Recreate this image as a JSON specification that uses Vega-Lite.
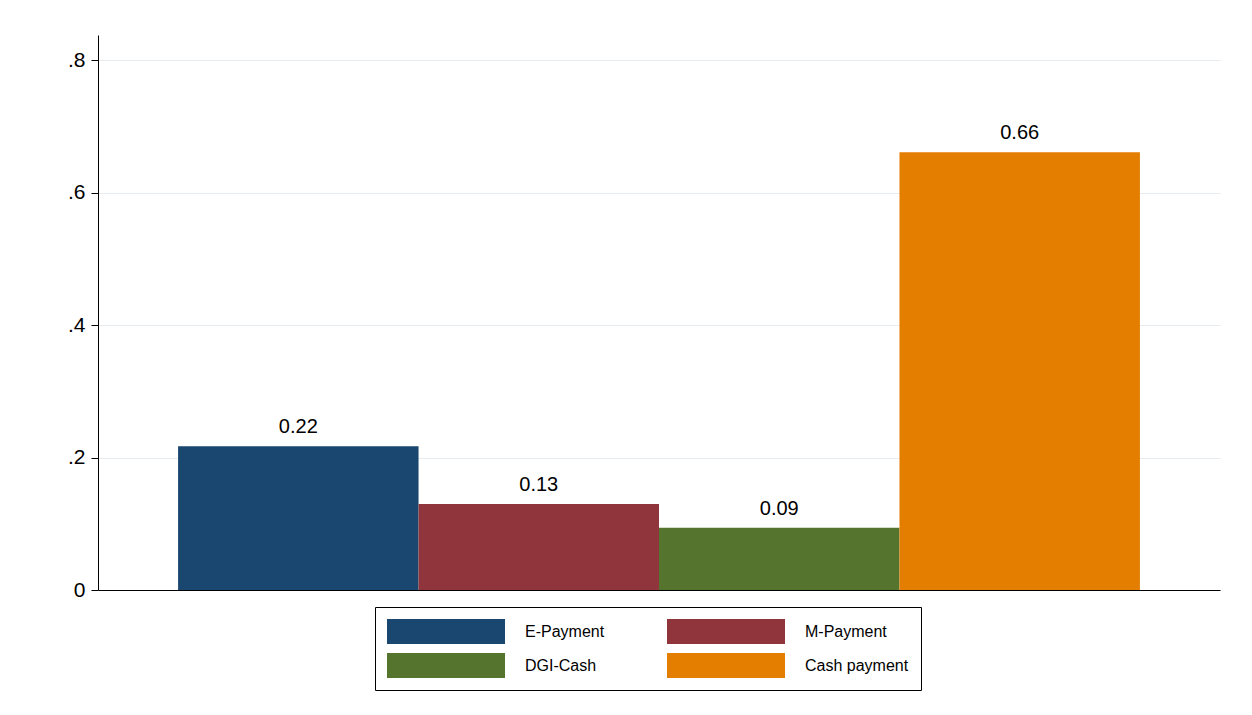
{
  "$schema": "https://vega.github.io/schema/vega-lite/v6.json",
  "autosize": "none",
  "width": 1122,
  "height": 555,
  "padding": {"left": 98, "top": 35, "right": 32, "bottom": 125},
  "background": "white",
  "config": {
    "font": "Liberation Sans",
    "view": {"stroke": null}
  },
  "data": {
    "values": [
      {"payment": "E-Payment", "share": 0.217, "label": "0.22"},
      {"payment": "M-Payment", "share": 0.13, "label": "0.13"},
      {"payment": "DGI-Cash", "share": 0.094, "label": "0.09"},
      {"payment": "Cash payment", "share": 0.661, "label": "0.66"}
    ]
  },
  "encoding": {
    "x": {
      "field": "payment",
      "type": "nominal",
      "sort": null,
      "scale": {"paddingInner": 0, "paddingOuter": 0.333},
      "axis": {"title": null, "labels": false, "ticks": false, "domainColor": "black", "domainWidth": 1}
    },
    "y": {
      "field": "share",
      "type": "quantitative",
      "scale": {"domain": [0, 0.838], "nice": false},
      "axis": {
        "title": null,
        "values": [0, 0.2, 0.4, 0.6, 0.8],
        "labelExpr": "datum.value == 0 ? '0' : replace(format(datum.value, '.1f'), '0.', '.')",
        "labelFontSize": 21,
        "labelColor": "black",
        "labelPadding": 6,
        "tickColor": "black",
        "tickSize": 7,
        "domainColor": "black",
        "gridColor": "#e6ecef",
        "gridWidth": 1.2
      }
    }
  },
  "layer": [
    {
      "mark": {"type": "bar"},
      "encoding": {
        "color": {
          "field": "payment",
          "type": "nominal",
          "sort": null,
          "scale": {"range": ["#1a476f", "#90353b", "#55752f", "#e37e00"]},
          "legend": {
            "title": null,
            "orient": "none",
            "legendX": 277,
            "legendY": 572,
            "columns": 2,
            "direction": "horizontal",
            "gridAlign": "all",
            "columnPadding": 38,
            "rowPadding": 9,
            "padding": 12,
            "strokeColor": "black",
            "fillColor": "white",
            "symbolType": "M-1,-1H8.44V1H-1Z",
            "symbolSize": 625,
            "symbolStrokeWidth": 0,
            "symbolOpacity": 1,
            "labelFontSize": 16,
            "labelColor": "black",
            "labelOffset": 113,
            "labelLimit": 300
          }
        }
      }
    },
    {
      "mark": {"type": "text", "dy": -19, "fontSize": 20, "color": "black"},
      "encoding": {"text": {"field": "label"}}
    }
  ]
}
